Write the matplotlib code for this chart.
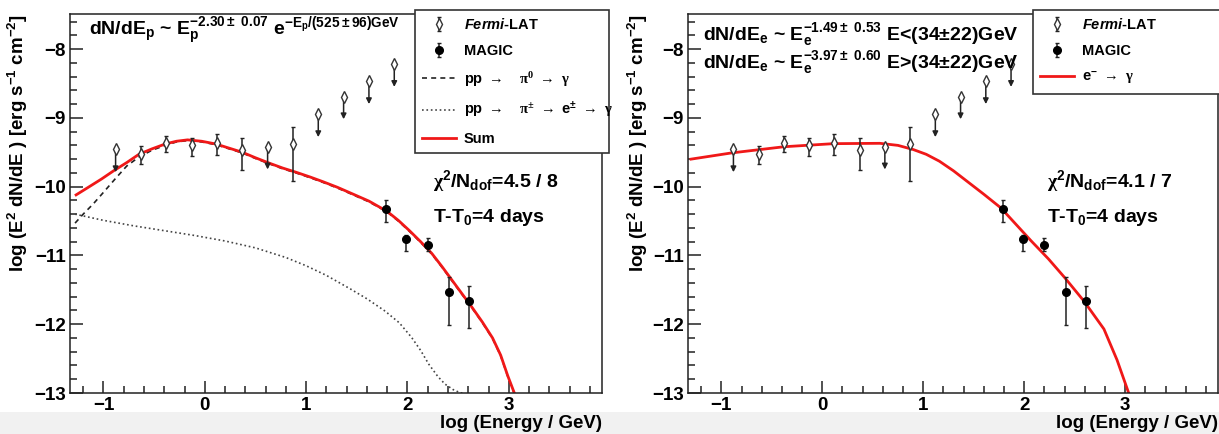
import matplotlib.pyplot as plt
from matplotlib.ticker import MultipleLocator
from matplotlib.patches import Rectangle
from matplotlib.lines import Line2D

plt.rcParams['font.family'] = ['Liberation Sans', 'DejaVu Sans']
plt.rcParams['font.weight'] = 'bold'
plt.rcParams['axes.labelweight'] = 'bold'
plt.rcParams['mathtext.fontset'] = 'custom'
plt.rcParams['mathtext.rm'] = 'Liberation Serif'
plt.rcParams['mathtext.it'] = 'Liberation Sans:italic:bold'
plt.rcParams['mathtext.bf'] = 'Liberation Sans:bold'
plt.rcParams['mathtext.default'] = 'regular'

W, H = 1219, 434

# Fermi-LAT points (log E, log E^2 dN/dE); hi/lo = ends of bar, ul = upper limit
fermi_x = [-0.88, -0.63, -0.38, -0.13, 0.12, 0.37, 0.62, 0.87, 1.12, 1.37, 1.62, 1.87]
fermi_y = [-9.45, -9.53, -9.36, -9.39, -9.37, -9.47, -9.43, -9.38, -8.95, -8.69, -8.47, -8.21]
fermi_hi = [-9.45, -9.41, -9.26, -9.29, -9.24, -9.29, -9.43, -9.14, -8.95, -8.69, -8.47, -8.21]
fermi_lo = [-9.79, -9.67, -9.49, -9.55, -9.54, -9.76, -9.75, -9.92, -9.28, -9.02, -8.80, -8.55]
fermi_ul = [True, False, False, False, False, False, True, False, True, True, True, True]

# MAGIC points
magic_x = [1.79, 1.99, 2.20, 2.41, 2.61]
magic_y = [-10.33, -10.76, -10.85, -11.53, -11.66]
magic_hi = [-10.19, -10.70, -10.75, -11.32, -11.45]
magic_lo = [-10.52, -10.93, -10.94, -12.01, -12.05]

# hadronic model (left): sum, pi0 -> gamma, pi+- -> e+- -> gamma
sum_x = [-1.27, -1.15, -1.02, -0.90, -0.77, -0.65, -0.52, -0.39, -0.28, -0.17, -0.03, 0.11,
         0.24, 0.37, 0.50, 0.64, 0.77, 0.90, 1.04, 1.17, 1.31, 1.45, 1.62, 1.80, 1.91, 2.02,
         2.13, 2.24, 2.34, 2.44, 2.54, 2.64, 2.74, 2.84, 2.92, 2.99, 3.06]
sum_y = [-10.12, -10.01, -9.89, -9.77, -9.65, -9.53, -9.45, -9.38, -9.34, -9.32, -9.34, -9.38,
         -9.44, -9.50, -9.58, -9.66, -9.73, -9.79, -9.86, -9.93, -10.01, -10.10, -10.21, -10.36,
         -10.49, -10.64, -10.80, -10.97, -11.16, -11.36, -11.56, -11.76, -11.97, -12.20, -12.45,
         -12.75, -13.02]
pi0_x = [-1.28, -1.20, -1.10, -1.01, -0.88, -0.77, -0.65, -0.52, -0.39, -0.28, -0.17, -0.03,
         0.11, 0.24, 0.37, 0.50, 0.64, 0.77, 0.90, 1.04, 1.17, 1.31, 1.45, 1.62, 1.80, 1.91,
         2.02, 2.13, 2.24, 2.34, 2.44, 2.54, 2.64, 2.74, 2.84, 2.92, 2.99, 3.06]
pi0_y = [-10.53, -10.40, -10.25, -10.10, -9.88, -9.70, -9.57, -9.47, -9.40, -9.35, -9.33, -9.35,
         -9.39, -9.45, -9.51, -9.59, -9.67, -9.74, -9.80, -9.87, -9.94, -10.02, -10.11, -10.22,
         -10.37, -10.50, -10.65, -10.81, -10.98, -11.17, -11.37, -11.57, -11.77, -11.98, -12.21,
         -12.46, -12.76, -13.03]
pic_x = [-1.28, -1.00, -0.70, -0.40, -0.10, 0.20, 0.50, 0.80, 1.00, 1.20, 1.44, 1.60, 1.78,
         1.92, 2.04, 2.13, 2.21, 2.30, 2.37, 2.45, 2.51, 2.58]
pic_y = [-10.40, -10.49, -10.57, -10.64, -10.71, -10.79, -10.89, -11.03, -11.15, -11.29, -11.49,
         -11.63, -11.81, -11.98, -12.19, -12.38, -12.58, -12.76, -12.87, -12.95, -12.99, -13.02]

# leptonic model (right)
lep_x = [-1.30, -0.90, -0.38, 0.11, 0.57, 0.75, 0.90, 1.03, 1.16, 1.30, 1.45, 1.60, 1.77,
         1.92, 2.07, 2.24, 2.40, 2.59, 2.79, 2.92, 3.04]
lep_y = [-9.60, -9.51, -9.42, -9.375, -9.37, -9.40, -9.46, -9.53, -9.63, -9.77, -9.94, -10.11,
         -10.31, -10.55, -10.79, -11.05, -11.32, -11.66, -12.07, -12.52, -13.02]


def box(left, top, right, bottom):
    return [left / W, 1 - bottom / H, (right - left) / W, (bottom - top) / H]


def setup(ax, ylab_x):
    ax.set_xlim(-1.33, 3.92)
    ax.set_ylim(-13, -7.49)
    ax.xaxis.set_major_locator(MultipleLocator(1))
    ax.xaxis.set_minor_locator(MultipleLocator(0.2))
    ax.yaxis.set_major_locator(MultipleLocator(1))
    ax.yaxis.set_minor_locator(MultipleLocator(0.2))
    ax.tick_params(which='both', direction='in', top=False, right=False,
                   labelsize=13.5, color='#222', width=1.1)
    ax.tick_params(which='major', length=9, pad=3)
    ax.tick_params(which='minor', length=5)
    for s in ax.spines.values():
        s.set_linewidth(1.1)
        s.set_color('#222')
    ax.set_xlabel('log (Energy / GeV)', fontsize=13.5, loc='right')
    ax.xaxis.set_label_coords(1.0, -0.057)
    ax.set_ylabel(r'log (E$^{2}$ dN/dE ) [erg s$^{-1}$ cm$^{-2}$]', fontsize=13.5, loc='top')
    ax.yaxis.set_label_coords(ylab_x, 1.0)


def draw_points(ax):
    det = [i for i in range(len(fermi_x)) if not fermi_ul[i]]
    ul = [i for i in range(len(fermi_x)) if fermi_ul[i]]
    for i in ul:
        ax.annotate('', xy=(fermi_x[i], fermi_lo[i]), xytext=(fermi_x[i], fermi_y[i]),
                    arrowprops=dict(arrowstyle='-|>', color='#222', lw=1.1,
                                    mutation_scale=8, shrinkA=0, shrinkB=0), zorder=3)
    ax.plot([fermi_x[i] for i in ul], [fermi_y[i] for i in ul], 'd', ms=5.8,
            mfc='white', mec='#333', mew=1.0, zorder=5)
    fermi = ax.errorbar([fermi_x[i] for i in det], [fermi_y[i] for i in det],
                        yerr=[[fermi_y[i] - fermi_lo[i] for i in det],
                              [fermi_hi[i] - fermi_y[i] for i in det]],
                        fmt='d', ms=5.8, mfc='white', mec='#333', mew=1.0,
                        ecolor='#222', elinewidth=1.1, capsize=1.5, zorder=5)
    magic = ax.errorbar(magic_x, magic_y,
                        yerr=[[y - l for y, l in zip(magic_y, magic_lo)],
                              [h - y for y, h in zip(magic_y, magic_hi)]],
                        fmt='o', ms=5.5, color='black', ecolor='#222',
                        elinewidth=1.1, capsize=1.5, zorder=5)
    return fermi, magic


fig = plt.figure(figsize=(12.19, 4.34), dpi=100)
fig.add_artist(Rectangle((0, 0), 1, 22 / H, transform=fig.transFigure,
                         facecolor='#f1f1f1', edgecolor='none', zorder=-1))

# ---- left panel: hadronic
ax1 = fig.add_axes(box(70, 14, 602, 393))
setup(ax1, -0.075)
ax1.plot(pic_x, pic_y, color='#444', lw=1.2, ls=':', zorder=2)
ax1.plot(pi0_x, pi0_y, color='#222', lw=1.2, dashes=(3, 2.5), zorder=2)
ax1.plot(sum_x, sum_y, color='#f01818', lw=2.0, zorder=2.5)
f1, m1 = draw_points(ax1)

fig.text(89 / W, 1 - 35 / H,
         r'dN/dE$_{p}$ ~ E$_{p}^{-2.30\pm\ 0.07}$ e$^{-E_{p}/(525\pm96)GeV}$',
         fontsize=14, va='baseline')
fig.text(433 / W, 1 - 187 / H, r'$\mathrm{\chi}^{2}$/N$_{dof}$=4.5 / 8', fontsize=14, va='baseline')
fig.text(433 / W, 1 - 222 / H, r'T-T$_{0}$=4 days', fontsize=14, va='baseline')

h1 = [f1, m1,
      Line2D([], [], color='#222', lw=1.2, dashes=(3, 2.5)),
      Line2D([], [], color='#444', lw=1.2, ls=':'),
      Line2D([], [], color='#f01818', lw=2.0)]
l1 = [r'$\mathit{Fermi}$-LAT', 'MAGIC',
      r'pp$\mathrm{\ \rightarrow\ \ \ \pi^{0}\ \rightarrow\ \gamma}$',
      r'pp$\mathrm{\ \rightarrow\ \ \ \pi^{\pm}\ \rightarrow}$ e$^{\pm}$$\mathrm{\ \rightarrow\ \gamma}$',
      'Sum']
leg1 = ax1.legend(h1, l1, loc='upper left', mode='expand',
                  bbox_to_anchor=(415 / W, 1 - 157 / H, 194 / W, 147 / H),
                  bbox_transform=fig.transFigure, borderaxespad=0, fontsize=10.5,
                  handlelength=2.3, handletextpad=0.55, labelspacing=0.8,
                  borderpad=0.5, fancybox=False, framealpha=1, edgecolor='#333')
leg1.get_frame().set_linewidth(1.2)

# ---- right panel: leptonic
ax2 = fig.add_axes(box(688, 14, 1218, 393))
setup(ax2, -0.072)
ax2.plot(lep_x, lep_y, color='#f01818', lw=2.0, zorder=2.5)
f2, m2 = draw_points(ax2)

fig.text(703 / W, 1 - 40 / H,
         r'dN/dE$_{e}$ ~ E$_{e}^{-1.49\pm\ 0.53}$ E<(34$\pm$22)GeV',
         fontsize=14, va='baseline')
fig.text(703 / W, 1 - 68 / H,
         r'dN/dE$_{e}$ ~ E$_{e}^{-3.97\pm\ 0.60}$ E>(34$\pm$22)GeV',
         fontsize=14, va='baseline')
fig.text(1047 / W, 1 - 187 / H, r'$\mathrm{\chi}^{2}$/N$_{dof}$=4.1 / 7', fontsize=14, va='baseline')
fig.text(1047 / W, 1 - 222 / H, r'T-T$_{0}$=4 days', fontsize=14, va='baseline')

h2 = [f2, m2, Line2D([], [], color='#f01818', lw=2.0)]
l2 = [r'$\mathit{Fermi}$-LAT', 'MAGIC', r'e$^{-}$$\mathrm{\ \rightarrow\ \gamma}$']
leg2 = ax2.legend(h2, l2, loc='upper left', mode='expand',
                  bbox_to_anchor=(1033 / W, 1 - 97 / H, 200 / W, 87 / H),
                  bbox_transform=fig.transFigure, borderaxespad=0, fontsize=10.5,
                  handlelength=2.3, handletextpad=0.55, labelspacing=0.8,
                  borderpad=0.5, fancybox=False, framealpha=1, edgecolor='#333')
leg2.get_frame().set_linewidth(1.2)

fig.savefig('out.png', dpi=100)
